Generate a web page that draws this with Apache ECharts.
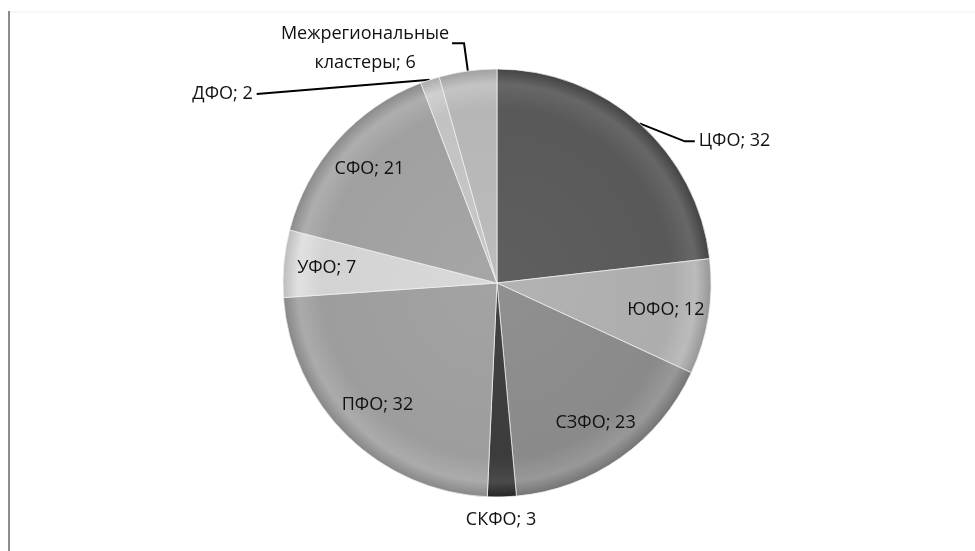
<!DOCTYPE html>
<html>
<head>
<meta charset="utf-8">
<script src="https://cdn.jsdelivr.net/npm/echarts@6/dist/echarts.min.js"></script>
<style>
  html, body { margin: 0; padding: 0; background: #ffffff; }
  #chart { width: 975px; height: 551px; }
</style>
</head>
<body>
<div id="chart"></div>
<script>
// Federal districts and number of clusters in each
const districts = ['ЦФО', 'ЮФО', 'СЗФО', 'СКФО', 'ПФО', 'УФО', 'СФО', 'ДФО', 'Межрегиональные\nкластеры'];
const counts = [32, 12, 23, 3, 32, 7, 21, 2, 6];
const shades = ['#595959', '#adadad', '#8a8a8a', '#3c3c3c', '#9d9d9d', '#d3d3d3', '#a0a0a0', '#c2c2c2', '#b6b6b6'];

// Which slices carry their label outside with a leader line
const outerLabel = [true, false, false, true, false, false, false, true, true];

const CX = 497, CY = 283, R = 214;

function adjust(hex, amt) {
  const v = parseInt(hex.slice(1), 16);
  const c = [(v >> 16) & 255, (v >> 8) & 255, v & 255].map(x => Math.max(0, Math.min(255, x + amt)));
  return 'rgb(' + c.join(',') + ')';
}

function sliceFill(base) {
  return {
    type: 'radial', x: CX, y: CY, r: R, global: true,
    colorStops: [
      { offset: 0, color: adjust(base, 6) },
      { offset: 0.82, color: base },
      { offset: 0.93, color: adjust(base, 14) },
      { offset: 1, color: adjust(base, -22) }
    ]
  };
}

const FONT = 'Open Sans';
const FS = 18;

// Leader line settings for the outside labels
const leader = {
  0: { length: 8, length2: 50 },
  3: { length: 6, length2: 0 },
  7: { length: 4, length2: 172 },
  8: { length: 28, length2: 12 }
};

const mainData = districts.map((name, i) => {
  const item = {
    name: name,
    value: counts[i],
    itemStyle: { color: sliceFill(shades[i]) },
    label: { show: outerLabel[i] },
    labelLine: { show: outerLabel[i] && i !== 3 }
  };
  if (leader[i]) {
    item.labelLine.length = leader[i].length;
    item.labelLine.length2 = leader[i].length2;
  }
  if (i === 8) {
    item.label.formatter = '{m|Межрегиональные\nкластеры; ' + counts[i] + '}';
  }
  return item;
});

// Transparent ring used to place the inside labels near the rim
const ringData = districts.map((name, i) => ({
  name: name,
  value: counts[i],
  itemStyle: { color: 'rgba(0,0,0,0)' },
  label: { show: !outerLabel[i] }
}));

// Shift a label down and bend its leader so the last segment follows it
function dropLabel(p, dy, bend) {
  const pts = p.labelLinePoints;
  if (!pts || pts.length < 3) return { dy: dy };
  const end = pts[pts.length - 1];
  const dir = end[0] >= pts[0][0] ? 1 : -1;
  return {
    dy: dy,
    labelLinePoints: [
      [pts[0][0], pts[0][1]],
      [end[0] - dir * bend, end[1] + dy],
      [end[0], end[1] + dy]
    ]
  };
}

const chart = echarts.init(document.getElementById('chart'), null, { renderer: 'canvas' });

chart.setOption({
  backgroundColor: '#ffffff',
  animation: false,
  graphic: [
    { type: 'line', shape: { x1: 9, y1: 11, x2: 9, y2: 551 }, style: { stroke: '#8c8c8c', lineWidth: 2 } },
    { type: 'line', shape: { x1: 10, y1: 12, x2: 975, y2: 12 }, style: { stroke: '#f2f2f2', lineWidth: 1 } }
  ],
  series: [
    {
      type: 'pie',
      center: [CX, CY],
      radius: [0, R],
      startAngle: 90,
      clockwise: true,
      avoidLabelOverlap: false,
      silent: true,
      itemStyle: { borderColor: 'rgba(240,240,240,0.75)', borderWidth: 1 },
      label: {
        position: 'outside',
        color: '#111',
        fontFamily: FONT,
        fontSize: FS,
        distanceToLabelLine: 4,
        formatter: p => p.name + '; ' + p.value,
        rich: {
          m: { fontFamily: FONT, fontSize: FS, color: '#111', width: 190, align: 'center', lineHeight: 29 }
        }
      },
      labelLine: { lineStyle: { color: '#000', width: 2 } },
      labelLayout: function (p) {
        if (p.dataIndex === 0) return dropLabel(p, 24, 10);
        if (p.dataIndex === 3) return { align: 'center', dx: -5, dy: 17 };
        if (p.dataIndex === 7) return dropLabel(p, 18, 0);
        if (p.dataIndex === 8) return { dx: 12, dy: 5 };
        return {};
      },
      data: mainData
    },
    {
      type: 'pie',
      center: [CX, CY],
      radius: [R * 0.57, R],
      startAngle: 90,
      clockwise: true,
      silent: true,
      avoidLabelOverlap: false,
      label: {
        position: 'inside',
        color: '#111',
        fontFamily: FONT,
        fontSize: FS,
        formatter: p => p.name + '; ' + p.value
      },
      labelLine: { show: false },
      data: ringData
    }
  ]
});
</script>
</body>
</html>
